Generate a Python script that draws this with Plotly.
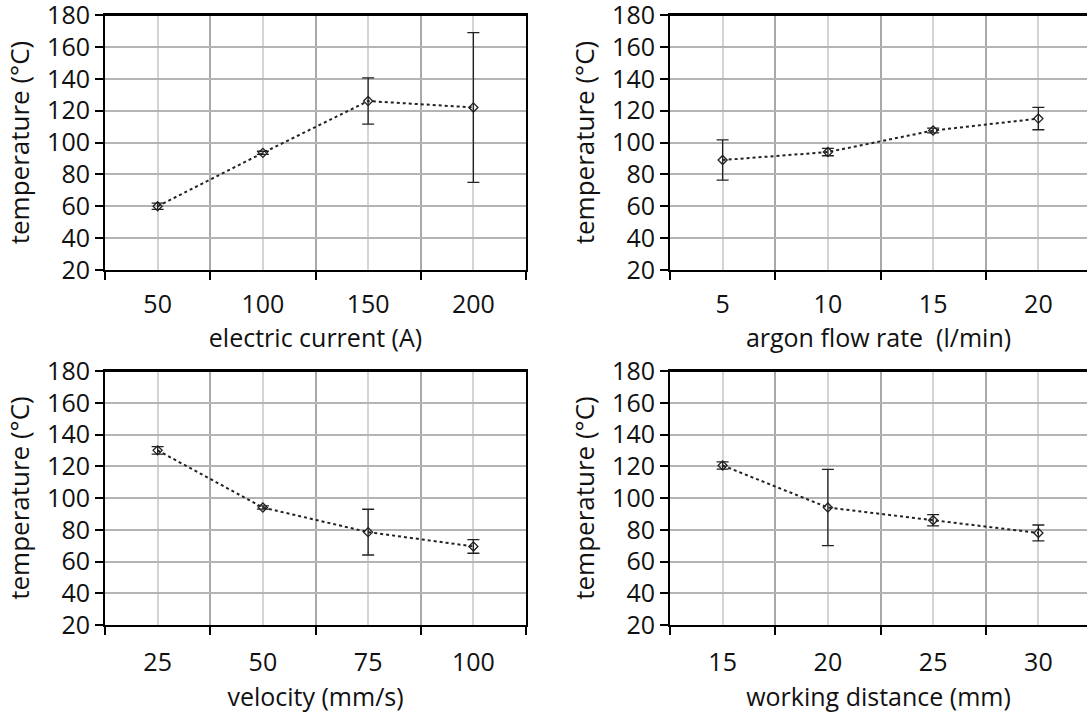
import plotly.graph_objects as go

W, H = 1087, 713

# ---- data ----
current_x = [50, 100, 150, 200]
current_y = [60, 93.5, 126, 122]
current_err = [2, 1, 14.5, 47]

argon_x = [5, 10, 15, 20]
argon_y = [89, 94, 107.5, 115]
argon_err = [12.6, 2.3, 1.5, 7]

velocity_x = [25, 50, 75, 100]
velocity_y = [130, 94, 78.5, 69.5]
velocity_err = [2.3, 1, 14.4, 4.3]

distance_x = [15, 20, 25, 30]
distance_y = [120.5, 94, 86, 78]
distance_err = [2.3, 24, 3.5, 5]

x_titles = ["electric current (A)", "argon flow rate  (l/min)",
            "velocity (mm/s)", "working distance (mm)"]
y_title = "temperature (°C)"

FONT = "Open Sans"
FS = 25
FSY = 26
TXT = "#111111"

panels = [
    (current_x, current_y, current_err),
    (argon_x, argon_y, argon_err),
    (velocity_x, velocity_y, velocity_err),
    (distance_x, distance_y, distance_err),
]

# plot-area pixel boxes (left, right, top, bottom)
CAT = 105.25
boxes = [
    (105, 526, 15, 270),
    (670, 1087, 15, 270),
    (105, 526, 371, 625),
    (670, 1087, 371, 625),
]

fig = go.Figure()
layout = dict(width=W, height=H, autosize=False,
              margin=dict(l=0, r=0, t=0, b=0, autoexpand=False),
              paper_bgcolor="white", plot_bgcolor="white",
              showlegend=False,
              font=dict(family=FONT, size=FS, color=TXT))
shapes = []

for i, ((xs, ys, es), (l, r, t, b)) in enumerate(zip(panels, boxes)):
    n = i + 1
    xa = "x" if n == 1 else f"x{n}"
    ya = "y" if n == 1 else f"y{n}"
    step = xs[1] - xs[0]
    lo = xs[0] - step / 2
    hi = lo + (r - l) / CAT * step
    bounds = [xs[0] - step / 2 + k * step for k in range(len(xs) + 1)]
    right_side = i % 2 == 1
    bottom_row = i >= 2

    fig.add_trace(go.Scatter(
        x=xs, y=ys, xaxis=xa, yaxis=ya, mode="lines+markers",
        line=dict(color="#222", width=2, dash="dot"),
        marker=dict(symbol="diamond-open", size=7, color="#222",
                    line=dict(width=1.3, color="#222")),
        error_y=dict(type="data", array=es, visible=True,
                     color="#222", thickness=1.3, width=6),
    ))

    layout["xaxis" if n == 1 else f"xaxis{n}"] = dict(
        domain=[l / W, r / W], anchor=ya, range=[lo, hi], automargin=False,
        tickmode="array", tickvals=xs, ticktext=[str(v) for v in xs],
        ticks="", ticklabelstandoff=14 if bottom_row else 11,
        ticklabeloverflow="allow",
        showgrid=True, gridcolor="#d4d4d4", gridwidth=1.5,
        zeroline=False,
        showline=True, linecolor="black", linewidth=2, mirror=True,
        minor=dict(tickmode="array", tickvals=bounds, ticks="outside",
                   ticklen=8, tickwidth=1.5, tickcolor="black",
                   showgrid=True, gridcolor="#a8a8a8", gridwidth=1.5),
        title=dict(text=x_titles[i], standoff=11 if bottom_row else 10,
                   font=dict(family=FONT, size=FS, color=TXT)),
        tickfont=dict(family=FONT, size=FS, color=TXT),
    )
    layout["yaxis" if n == 1 else f"yaxis{n}"] = dict(
        domain=[1 - b / H, 1 - t / H], anchor=xa, range=[20, 180],
        automargin=False, ticklabeloverflow="allow",
        tickmode="linear", tick0=20, dtick=20,
        ticks="outside", ticklen=8, tickwidth=1.5, tickcolor="black",
        showgrid=True, gridcolor="#b4b4b4", gridwidth=1.5,
        zeroline=False,
        showline=True, linecolor="black", linewidth=2,
        mirror=(not right_side),
        title=dict(text=y_title, standoff=10,
                   font=dict(family=FONT, size=FSY, color=TXT)),
        tickfont=dict(family=FONT, size=FS, color=TXT),
    )
    # explicit top frame line
    shapes.append(dict(type="line", xref=f"{xa} domain", yref=f"{ya} domain",
                       x0=0, x1=1, y0=1, y1=1,
                       line=dict(color="black", width=2), layer="above"))

layout["shapes"] = shapes
fig.update_layout(**layout)
fig.write_html("out.html", config={"displayModeBar": False},
               post_script="document.body.style.margin='0';")
